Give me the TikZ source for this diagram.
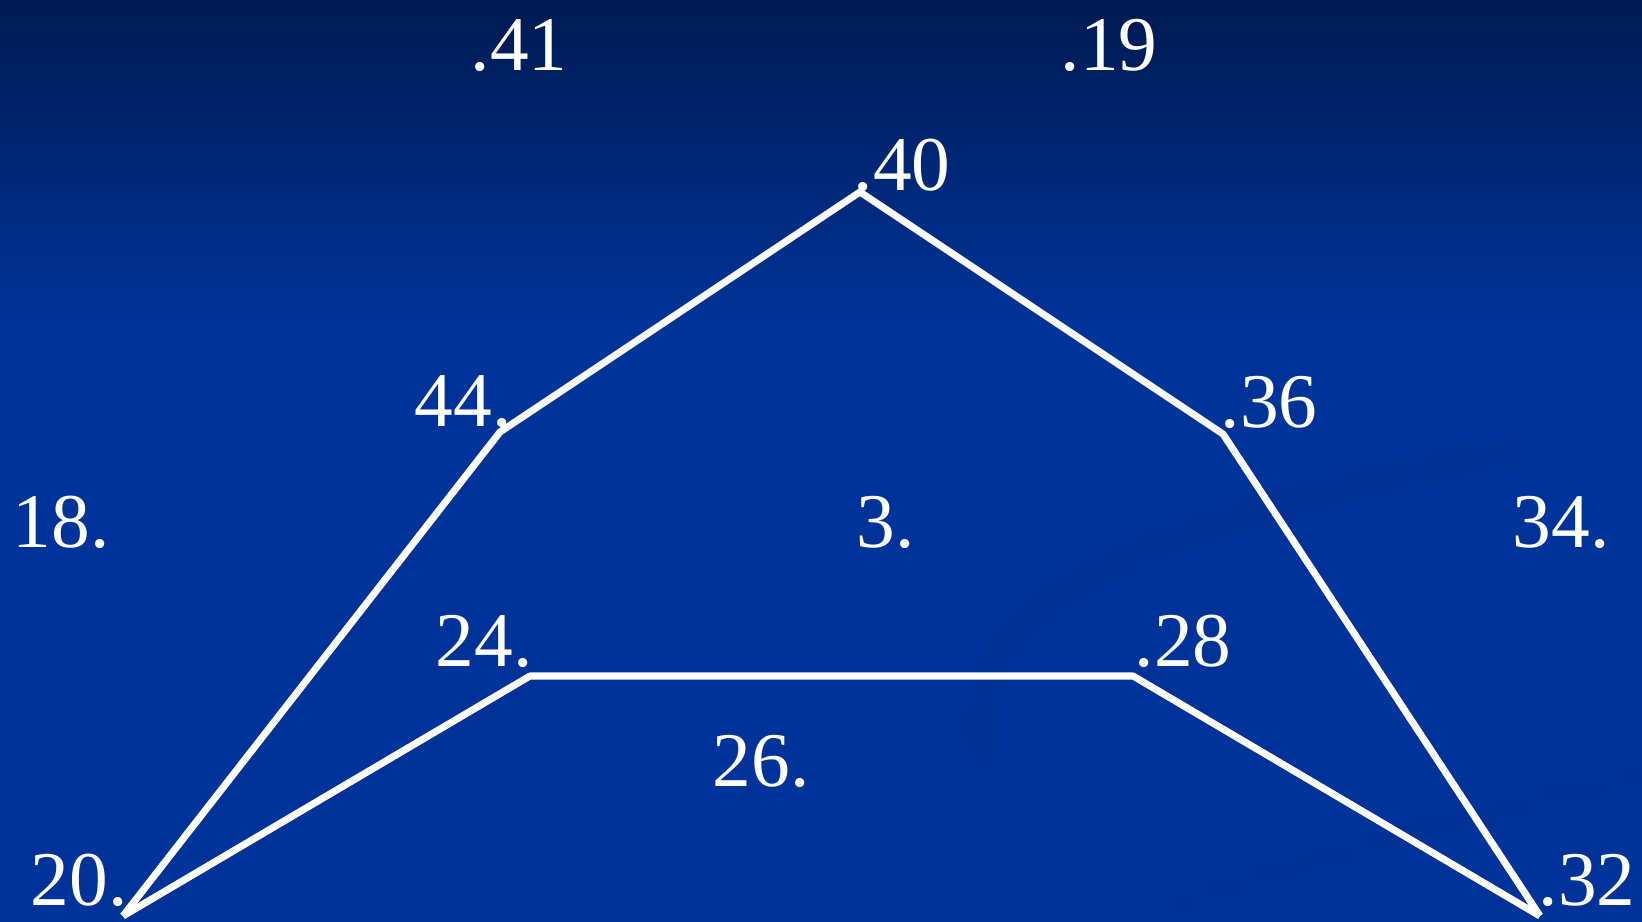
\documentclass[tikz,border=0pt]{standalone}
\usepackage{fontspec}
\setmainfont{Liberation Serif}
\usepackage{tikz}
\usetikzlibrary{positioning}
\definecolor{navytop}{HTML}{001A52}
\definecolor{slideblue}{HTML}{003399}
\definecolor{swirlblue}{HTML}{00308F}

\tikzset{
  edge/.style={white,line width=2pt,line join=round},
  lab/.style={white,inner sep=0pt,anchor=base west,font=\fontsize{22pt}{26pt}\selectfont}
}

\begin{document}
\begin{tikzpicture}[x=0.01cm,y=-0.01cm]
        % background
        \useasboundingbox (0,0) rectangle (1642,922);
        \fill[slideblue] (0,0) rectangle (1642,922);
        \shade[top color=navytop,bottom color=slideblue] (0,0) rectangle (1642,330);
        \draw[swirlblue,line width=9pt,opacity=0.5] (985,770) .. controls (940,600) and (1150,520) .. (1520,450);
        \draw[swirlblue,line width=6pt,opacity=0.4] (1160,910) .. controls (1400,830) and (1560,790) .. (1642,780);
        % vertices
        \coordinate (v40) at (860,192);
        \coordinate (v44) at (500,432);
        \coordinate (v36) at (1223,434);
        \coordinate (v24) at (530,676);
        \coordinate (v28) at (1133,676);
        \coordinate (v20) at (123,916);
        \coordinate (v32) at (1540,916);
        % labels
        \node[lab] (l41) at (470,71) {.41};
        \node[lab] (l19) at (1060,71) {.19};
        \node[lab] (l40) at (853,191) {.40};
        \node[lab] (l44) at (414,427) {44.};
        \node[lab] (l36) at (1220,428) {.36};
        \node[lab] (l18) at (12,548) {18.};
        \node[lab] (l3) at (856,548) {3.};
        \node[lab] (l34) at (1512,548) {34.};
        \node[lab] (l24) at (435,667) {24.};
        \node[lab] (l28) at (1134,667) {.28};
        \node[lab] (l26) at (712,787) {26.};
        \node[lab] (l20) at (30,906) {20.};
        \node[lab] (l32) at (1538,906) {.32};
        % edges
        \draw[edge] (v20) -- (v44) -- (v40) -- (v36) -- (v32);
        \draw[edge] (v20) -- (v24) -- (v28) -- (v32);
      \end{tikzpicture}
\end{document}
